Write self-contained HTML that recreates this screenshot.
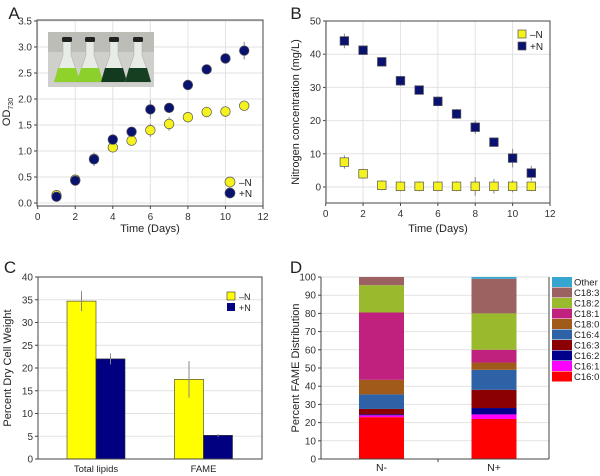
<!DOCTYPE html>
<html><head><meta charset="utf-8"><style>
body{margin:0;background:#fff;}
svg{display:block;font-family:"Liberation Sans",Arial,sans-serif;}
</style></head><body>
<svg id="fig" width="600" height="476" viewBox="0 0 600 476"></svg>
<script>
const days=[1,2,3,4,5,6,7,8,9,10,11];
const odMinusN=[0.15,0.45,0.85,1.07,1.2,1.4,1.52,1.65,1.75,1.76,1.87];
const odMinusNErr=[0.05,0.08,0.1,0.08,0.08,0.13,0.13,0.1,0.1,0.1,0.1];
const odPlusN=[0.12,0.43,0.84,1.22,1.37,1.8,1.83,2.27,2.57,2.78,2.93];
const odPlusNErr=[0.08,0.05,0.13,0.05,0.05,0.18,0.07,0.1,0.08,0.1,0.17];
const nitMinusN=[7.5,4,0.5,0.2,0.2,0.2,0.2,0.2,0.2,0.2,0.2];
const nitMinusNErr=[2,1.5,1.5,1.5,1.5,1.5,1.5,2.8,2.2,1.8,1.5];
const nitPlusN=[44,41.2,37.7,32,29.2,25.8,22,18,13.5,8.7,4.2];
const nitPlusNErr=[2.2,1.3,1.3,1.5,1.2,1.5,1.5,2,1.3,2.8,2.2];
const lipidCats=["Total lipids","FAME"];
const lipidMinusN=[34.7,17.5];
const lipidMinusNErr=[2.2,4];
const lipidPlusN=[22,5.2];
const lipidPlusNErr=[1.2,0.3];
const fameCats=["N-","N+"];
const fameNames=["C16:0","C16:1","C16:2","C16:3","C16:4","C18:0","C18:1","C18:2","C18:3","Other"];
const fameMinus=[23,1,0.5,3,8,8,37,15,4.5,0];
const famePlus=[22,2.5,3.5,10,11,4,7,20,19,1];
const fameColors=["#ff0000","#ff00ff","#00008b","#8b0000","#2e62a6","#a05a1a","#c0207e","#9aba2e","#9c6262","#36a6d0"];

const NS="http://www.w3.org/2000/svg";
const svg=document.getElementById('fig');
function mk(tag,attrs,parent,text){const e=document.createElementNS(NS,tag);for(const k in attrs)e.setAttribute(k,attrs[k]);if(text!==undefined)e.textContent=text;(parent||svg).appendChild(e);return e;}
function lin(d0,d1,r0,r1){return v=>r0+(v-d0)*(r1-r0)/(d1-d0);}

function frame(g,x0,x1,y0,y1){
  const r=mk('rect',{x:x0,y:y0,width:x1-x0,height:y1-y0,fill:'none',stroke:'#444','stroke-width':1},g);
  
  
}
function yTicks(g,ticks,ys,x0,x1,withGrid){
  ticks.forEach(t=>{const y=ys(t);
    if(withGrid){const l=mk('line',{x1:x0,x2:x1,y1:y,y2:y,stroke:'#e2e2e2'},g);}
    mk('line',{x1:x0-3,x2:x0,y1:y,y2:y,stroke:'#444'},g);
    const tx=mk('text',{x:x0-5,y:y+3.5,'font-size':10,'text-anchor':'end',fill:'#333'},g,t.label);
    
  });
}
function xTicks(g,ticks,xs,y0,y1,withGrid){
  ticks.forEach(t=>{const x=xs(t.v);
    if(withGrid){const l=mk('line',{x1:x,x2:x,y1:y0,y2:y1,stroke:'#e2e2e2'},g);}
    mk('line',{x1:x,x2:x,y1:y1,y2:y1+3,stroke:'#444'},g);
    const tx=mk('text',{x:x,y:y1+14,'font-size':10,'text-anchor':'middle',fill:'#333'},g,t.label);
    
  });
}
function label(txt,x,y,size,name,rot){
  const a={x:x,y:y,'font-size':size,'text-anchor':'middle',fill:'#222'};
  if(rot)a.transform=`rotate(-90 ${x} ${y})`;
  const t=mk('text',a,svg,txt);return t;
}
function errBar(g,x,yt,yb){mk('line',{x1:x,x2:x,y1:yt,y2:yb,stroke:'#888','stroke-width':1},g);}

// ---------- Panel A ----------
{
const g=mk('g',{});
const x0=37,x1=263,y0=20,y1=206;
const xs=lin(0,12,37.7,263),ys=lin(0,3.5,203,21);
const yt=[];for(let i=0;i<=7;i++)yt.push({v:i*0.5,label:(i*0.5).toFixed(1)});
yt.forEach(t=>{});
yTicks(g,yt.map(t=>Object.assign({},t)).map(t=>t),t=>ys(typeof t==='object'?t.v:t),x0,x1,true);
xTicks(g,[0,2,4,6,8,10,12].map(v=>({v,label:String(v)})),xs,y0,y1,true);
frame(g,x0,x1,y0,y1);
// inset photo
const ph=mk('g',{},g);
mk('rect',{x:48,y:32,width:106,height:55,fill:'#cfd0cc'},ph);
mk('rect',{x:48,y:32,width:106,height:20,fill:'#bdbdb8'},ph);
[[67,'#8fd22a'],[90,'#8cd02c'],[114,'#123a1e'],[138,'#163f22']].forEach(([cx,c])=>{
  mk('path',{d:`M${cx-4} 40 L${cx+4} 40 L${cx+4} 55 L${cx+13} 82 L${cx-13} 82 L${cx-4} 55 Z`,fill:'#e8ece6',stroke:'#aaa','stroke-width':0.5},ph);
  mk('path',{d:`M${cx-9} 68 L${cx+9} 68 L${cx+13} 82 L${cx-13} 82 Z`,fill:c},ph);
  mk('rect',{x:cx-5,y:37,width:10,height:5,rx:1.5,fill:'#222'},ph);
});
// series
function series(vals,errs,fill,name){
  vals.forEach((v,i)=>{const cx=xs(days[i]),cy=ys(v);
    errBar(g,cx,ys(v+errs[i]),ys(v-errs[i]));
    const c=mk('circle',{cx:cx,cy:cy,r:4.8,fill:fill,stroke:'#555','stroke-width':0.7},g);
    
  });
}
series(odMinusN,odMinusNErr,'#f5f21e','od-minus-n-point');
series(odPlusN,odPlusNErr,'#0a1270','od-plus-n-point');
const lg=mk('g',{},g);
mk('circle',{cx:230,cy:182,r:5,fill:'#f5f21e',stroke:'#555','stroke-width':0.7},lg);
mk('circle',{cx:230,cy:193,r:5,fill:'#0a1270',stroke:'#555','stroke-width':0.7},lg);
mk('text',{x:239,y:186,'font-size':10,fill:'#222'},lg,'–N');
mk('text',{x:239,y:197,'font-size':10,fill:'#222'},lg,'+N');
label('A',14,19,17,'panel-label-a');
label('Time (Days)',150,232,11,'x-axis-title-a');
const t=mk('text',{x:10,y:112,'font-size':11,'text-anchor':'middle',fill:'#222',transform:'rotate(-90 10 112)'},svg);

t.innerHTML='OD<tspan font-size="7" dy="3">730</tspan>';
}

// ---------- Panel B ----------
{
const g=mk('g',{});
const x0=326,x1=550,y0=21,y1=203;
const xs=lin(0,12,325.7,550),ys=lin(0,50,187,21);
const yt=[0,10,20,30,40,50].map(v=>({v,label:String(v)}));
yTicks(g,yt,t=>ys(t.v),x0,x1,true);
xTicks(g,[0,2,4,6,8,10,12].map(v=>({v,label:String(v)})),xs,y0,y1,true);
frame(g,x0,x1,y0,y1);
function series(vals,errs,fill,name){
  vals.forEach((v,i)=>{const cx=xs(days[i]),cy=ys(v);
    errBar(g,cx,ys(v+errs[i]),ys(v-errs[i]));
    const r=mk('rect',{x:cx-4.3,y:cy-4.3,width:8.6,height:8.6,fill:fill,stroke:'#555','stroke-width':0.7},g);
    
  });
}
series(nitMinusN,nitMinusNErr,'#f5f21e','nitrogen-minus-n-point');
series(nitPlusN,nitPlusNErr,'#0a1270','nitrogen-plus-n-point');
const lg=mk('g',{},g);
mk('rect',{x:518,y:30,width:8,height:8,fill:'#f5f21e',stroke:'#555','stroke-width':0.7},lg);
mk('rect',{x:518,y:42,width:8,height:8,fill:'#0a1270',stroke:'#555','stroke-width':0.7},lg);
mk('text',{x:530,y:38,'font-size':10,fill:'#222'},lg,'–N');
mk('text',{x:530,y:50,'font-size':10,fill:'#222'},lg,'+N');
label('B',296,19,17,'panel-label-b');
label('Time (Days)',438,232,11,'x-axis-title-b');
label('Nitrogen concentration (mg/L)',299,112,11,'y-axis-title-b',true);
}

// ---------- Panel C ----------
{
const g=mk('g',{});
const x0=38,x1=262,y0=277,y1=459;
const ys=lin(0,40,459,277);
const yt=[0,5,10,15,20,25,30,35,40].map(v=>({v,label:String(v)}));
yTicks(g,yt,t=>ys(t.v),x0,x1,true);
const bw=29,centers=[96,203.5];
lipidCats.forEach((c,i)=>{
  const cx=centers[i];
  const b1=mk('rect',{x:cx-bw,y:ys(lipidMinusN[i]),width:bw,height:ys(0)-ys(lipidMinusN[i]),fill:'#ffff00',stroke:'#333','stroke-width':0.6},g);
  
  const b2=mk('rect',{x:cx,y:ys(lipidPlusN[i]),width:bw,height:ys(0)-ys(lipidPlusN[i]),fill:'#000080',stroke:'#333','stroke-width':0.6},g);
  
  errBar(g,cx-bw/2,ys(lipidMinusN[i]+lipidMinusNErr[i]),ys(lipidMinusN[i]-lipidMinusNErr[i]));
  errBar(g,cx+bw/2,ys(lipidPlusN[i]+lipidPlusNErr[i]),ys(lipidPlusN[i]-lipidPlusNErr[i]));
  const t=mk('text',{x:cx,y:472,'font-size':9.5,'text-anchor':'middle',fill:'#222'},g,c);
  
});
frame(g,x0,x1,y0,y1);
const lg=mk('g',{},g);
mk('rect',{x:227,y:292,width:8,height:8,fill:'#ffff00',stroke:'#333','stroke-width':0.6},lg);
mk('rect',{x:227,y:303,width:8,height:8,fill:'#000080'},lg);
mk('text',{x:239,y:300,'font-size':9,fill:'#222'},lg,'–N');
mk('text',{x:239,y:311,'font-size':9,fill:'#222'},lg,'+N');
label('C',10,273,17,'panel-label-c');
label('Percent Dry Cell Weight',11,368,11,'y-axis-title-c',true);
}

// ---------- Panel D ----------
{
const g=mk('g',{});
const x0=321,x1=549,y0=277,y1=459;
const ys=lin(0,100,459,277);
const yt=[0,10,20,30,40,50,60,70,80,90,100].map(v=>({v,label:String(v)}));
yTicks(g,yt,t=>ys(t.v),x0,x1,true);
const centers=[381.5,494],bw=45;
[fameMinus,famePlus].forEach((vals,bi)=>{
  let acc=0;
  vals.forEach((v,si)=>{
    const r=mk('rect',{x:centers[bi]-bw/2,y:ys(acc+v),width:bw,height:ys(acc)-ys(acc+v),fill:fameColors[si]},g);
    
    
    acc+=v;
  });
  const t=mk('text',{x:centers[bi],y:471,'font-size':10.5,'text-anchor':'middle',fill:'#222'},g,fameCats[bi]);
  
});
mk('line',{x1:x0,x2:x1,y1:y1,y2:y1,stroke:'#444'},g);
mk('line',{x1:x0,x2:x0,y1:y0,y2:y1,stroke:'#444'},g);
mk('line',{x1:x1,x2:x1,y1:y0,y2:y1,stroke:'#444'},g);
mk('line',{x1:438,x2:438,y1:y1,y2:y1+3,stroke:'#444'},g);
const lg=mk('g',{},g);
for(let k=0;k<fameNames.length;k++){
  const si=fameNames.length-1-k;const y=277+k*10.5;
  const r=mk('rect',{x:552,y:y,width:20,height:10,fill:fameColors[si]},lg);
  
  mk('text',{x:574,y:y+8.5,'font-size':9.5,fill:'#222'},lg,fameNames[si]);
}
label('D',296,273,17,'panel-label-d');
label('Percent FAME Distribution',299,368,11,'y-axis-title-d',true);
}
</script>
</body></html>
